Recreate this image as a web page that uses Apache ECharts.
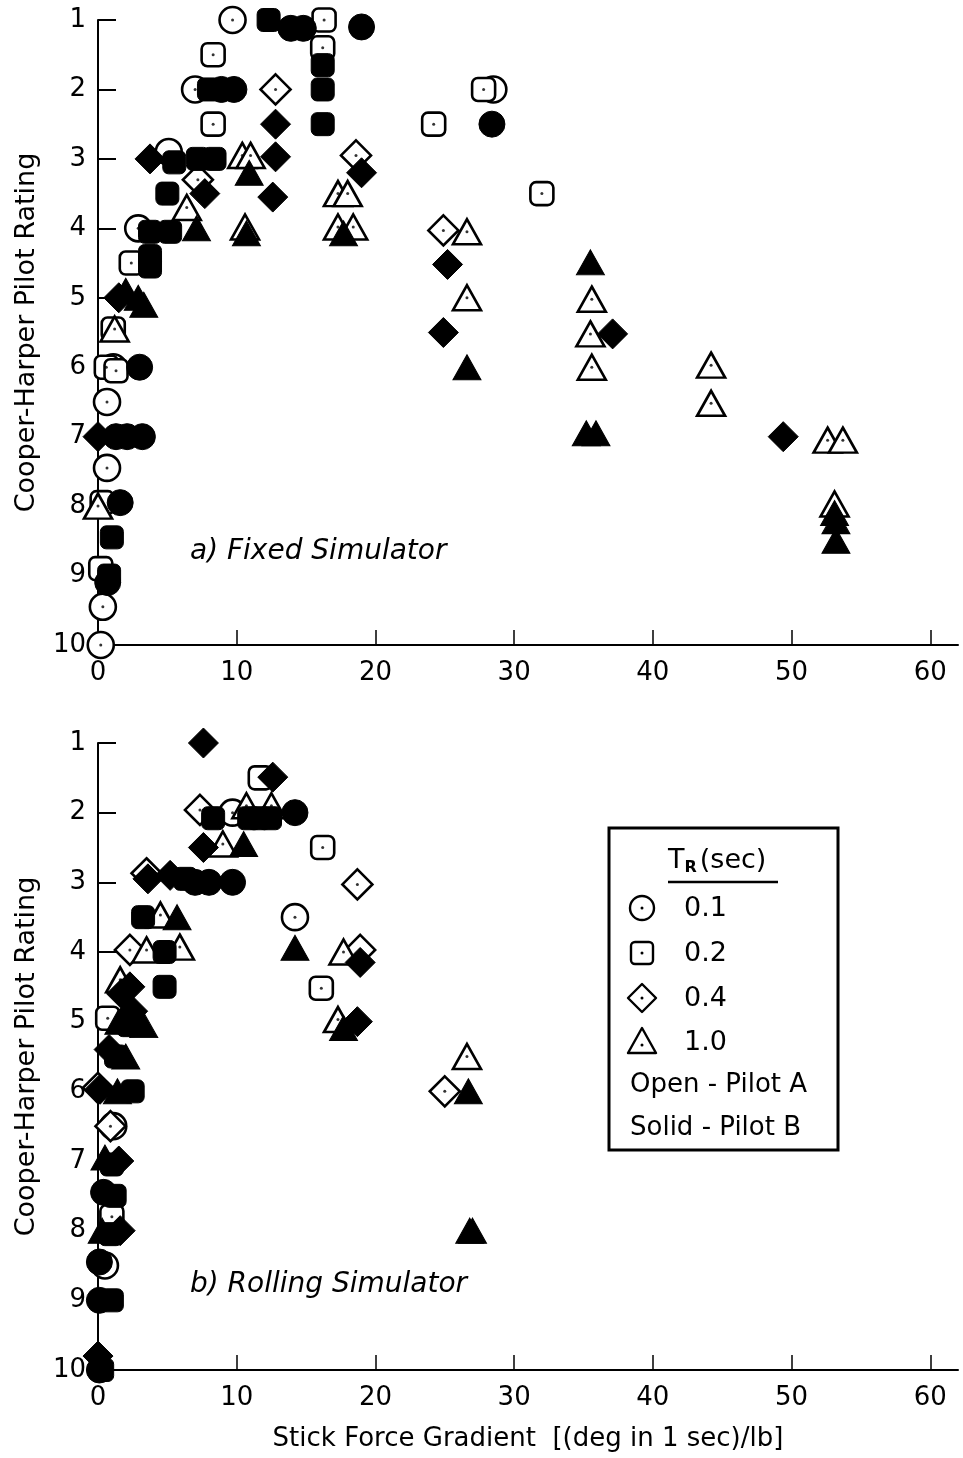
<!DOCTYPE html>
<html><head><meta charset="utf-8">
<script src="https://cdn.jsdelivr.net/npm/echarts@6/dist/echarts.min.js"></script>
<style>html,body{margin:0;padding:0;background:#fff}#c{width:963px;height:1458px}</style>
</head><body><div id="c"></div>
<script>
// ---- tick labels ----
const xTicks = [0, 10, 20, 30, 40, 50, 60];
const yTicks = [1, 2, 3, 4, 5, 6, 7, 8, 9, 10];
const yTitle = 'Cooper-Harper Pilot Rating';
const xTitle = 'Stick Force Gradient  [(deg in 1 sec)/lb]';
const panelTitles = ['a) Fixed Simulator', 'b) Rolling Simulator'];
const legendRows = ['0.1', '0.2', '0.4', '1.0'];
const legendNotes = ['Open - Pilot A', 'Solid - Pilot B'];

// ---- a) Fixed simulator: [stick force gradient, pilot rating] ----
const fixedCircleA = [[9.7,1.0],[14.3,0.95],[19.0,0.95],[7.0,2.0],[28.5,2.0],[5.1,2.9],[2.9,4.0],[1.1,6.0],[0.65,6.5],[0.65,7.45],[0.35,9.45],[0.2,10.0]];
const fixedCircleB = [[13.9,1.12],[14.8,1.12],[19.0,1.1],[8.9,2.0],[9.8,2.0],[28.4,2.5],[3.0,6.0],[1.3,7.0],[2.1,7.0],[3.2,7.0],[1.6,7.95],[0.7,9.1]];
const fixedSquareA = [[16.3,1.0],[8.3,1.5],[16.2,1.4],[27.8,2.0],[8.3,2.5],[24.2,2.5],[32.0,3.5],[2.4,4.5],[1.1,5.45],[0.6,6.0],[1.3,6.05],[0.3,7.95],[0.2,8.9]];
const fixedSquareB = [[12.3,1.0],[16.2,1.65],[8.0,2.0],[16.2,2.0],[16.2,2.5],[5.5,3.05],[7.2,3.0],[8.4,3.0],[5.0,3.5],[3.75,4.05],[5.2,4.05],[3.75,4.4],[3.75,4.55],[1.0,8.45],[0.8,9.0]];
const fixedDiamondA = [[12.8,2.0],[18.6,2.95],[24.9,4.03],[7.2,3.3]];
const fixedDiamondB = [[12.8,2.5],[3.75,3.0],[12.8,2.97],[12.6,3.55],[19.0,3.2],[7.7,3.5],[25.2,4.52],[24.9,5.5],[37.1,5.52],[49.4,7.0],[0.0,7.0],[1.5,5.0]];
const fixedTriangleA = [[10.4,2.95],[11.0,2.95],[17.3,3.5],[18.0,3.5],[17.3,3.98],[18.4,3.98],[10.6,3.98],[6.4,3.7],[26.6,4.05],[26.6,5.0],[35.6,5.02],[35.5,5.52],[35.6,6.0],[44.2,5.97],[44.2,6.52],[52.6,7.05],[53.7,7.05],[53.1,7.97],[1.2,5.45],[0.0,8.0]];
const fixedTriangleB = [[10.9,3.2],[17.7,4.07],[10.7,4.07],[7.1,4.0],[35.5,4.49],[26.6,6.0],[35.2,6.95],[35.9,6.95],[53.1,8.1],[53.2,8.22],[53.2,8.5],[2.0,4.9],[2.9,5.0],[3.3,5.1]];

// ---- b) Rolling simulator ----
const rollCircleA = [[9.7,2.0],[14.2,3.5],[1.1,6.5],[0.5,8.5]];
const rollCircleB = [[14.2,2.0],[7.0,3.0],[8.0,3.0],[9.7,3.0],[0.4,7.45],[0.1,8.45],[0.1,9.0],[0.1,10.0]];
const rollSquareA = [[11.7,1.5],[16.2,2.5],[16.1,4.52],[0.7,4.95],[1.0,7.8]];
const rollSquareB = [[8.3,2.08],[10.9,2.08],[11.6,2.08],[12.4,2.08],[6.3,2.95],[3.25,3.5],[4.8,4.0],[4.8,4.5],[2.2,5.05],[1.3,5.5],[2.5,6.0],[1.0,7.05],[1.2,7.5],[0.9,8.05],[1.0,9.0],[0.3,10.0]];
const rollDiamondA = [[7.35,1.96],[3.5,2.87],[18.7,3.03],[2.3,3.97],[18.9,3.97],[0.0,5.95],[0.9,6.5],[25.0,6.0]];
const rollDiamondB = [[7.6,1.0],[12.6,1.49],[7.6,2.5],[3.6,2.95],[5.2,2.9],[18.9,4.15],[2.3,4.5],[1.7,4.6],[18.7,5.0],[2.5,4.85],[0.8,5.4],[0.15,5.97],[1.5,7.0],[1.6,8.0],[0.0,9.8]];
const rollTriangleA = [[10.7,1.9],[12.5,1.9],[9.0,2.45],[4.5,3.47],[3.5,3.97],[5.9,3.93],[17.7,4.0],[1.6,4.4],[17.3,4.97],[26.6,5.5]];
const rollTriangleB = [[10.5,2.45],[5.7,3.5],[14.2,3.94],[1.5,5.0],[3.3,5.05],[17.7,5.09],[2.0,5.5],[1.4,6.0],[26.7,6.0],[0.5,6.95],[0.3,8.0],[26.8,8.0],[27.0,8.0]];

const FONT = 'DejaVu Sans';
const SHAPES = {
  circle: {symbol: 'circle', size: 26},
  square: {symbol: 'roundRect', size: 23},
  diamond: {symbol: 'diamond', size: 30},
  triangle: {symbol: 'triangle', size: [28, 25]}
};

function xAxis(gi, named) {
  return {
    type: 'value', gridIndex: gi, min: 0, max: 62, interval: 10,
    axisLine: {lineStyle: {color: '#000', width: 2}},
    axisTick: {inside: true, length: 15, customValues: xTicks, lineStyle: {color: '#000', width: 1.5}},
    axisLabel: {customValues: xTicks, color: '#000', fontSize: 26, fontFamily: FONT, margin: 15},
    splitLine: {show: false},
    name: named ? xTitle : '', nameLocation: 'middle', nameGap: 56,
    nameTextStyle: {color: '#000', fontSize: 26, fontFamily: FONT}
  };
}
function yAxis(gi) {
  return {
    type: 'value', gridIndex: gi, min: 1, max: 10, interval: 1, inverse: true,
    axisLine: {lineStyle: {color: '#000', width: 2}},
    axisTick: {inside: true, length: 18, lineStyle: {color: '#000', width: 2}},
    axisLabel: {color: '#000', fontSize: 26, fontFamily: FONT, margin: 12},
    splitLine: {show: false},
    name: yTitle, nameLocation: 'middle', nameGap: 58, nameRotate: 90,
    nameTextStyle: {color: '#000', fontSize: 27, fontFamily: FONT}
  };
}

const series = [];
function panel(gi, sets) {
  // open markers (Pilot A)
  sets.forEach(([shape, open]) => {
    series.push({type: 'scatter', xAxisIndex: gi, yAxisIndex: gi, data: open,
      symbol: SHAPES[shape].symbol, symbolSize: SHAPES[shape].size,
      itemStyle: {color: '#fff', borderColor: '#000', borderWidth: 2.6, opacity: 1},
      emphasis: {disabled: true}, silent: true, z: 2});
    series.push({type: 'scatter', xAxisIndex: gi, yAxisIndex: gi, data: open,
      symbol: 'circle', symbolSize: 3, itemStyle: {color: '#000'}, silent: true, z: 2});
  });
  // solid markers (Pilot B)
  sets.forEach(([shape, open, solid]) => {
    series.push({type: 'scatter', xAxisIndex: gi, yAxisIndex: gi, data: solid,
      symbol: SHAPES[shape].symbol, symbolSize: SHAPES[shape].size,
      itemStyle: {color: '#000', borderColor: '#000', borderWidth: 1, opacity: 1},
      silent: true, z: 3});
  });
}
panel(0, [['circle', fixedCircleA, fixedCircleB], ['square', fixedSquareA, fixedSquareB],
          ['diamond', fixedDiamondA, fixedDiamondB], ['triangle', fixedTriangleA, fixedTriangleB]]);
panel(1, [['circle', rollCircleA, rollCircleB], ['square', rollSquareA, rollSquareB],
          ['diamond', rollDiamondA, rollDiamondB], ['triangle', rollTriangleA, rollTriangleB]]);

// legend box (drawn with graphic elements, absolute coordinates)
const LX = 642, rowsY = [908, 953, 998, 1042];
const lg = [
  {type: 'rect', shape: {x: 609, y: 828, width: 229, height: 322}, style: {fill: '#fff', stroke: '#000', lineWidth: 3}},
  {type: 'text', x: 668, y: 845, style: {rich: {t: {fontSize: 27, fontFamily: FONT, fill: '#000'}, s: {fontSize: 16, fontWeight: 'bold', fontFamily: FONT, fill: '#000', padding: [15, 3, 0, 0]}}, text: '{t|T}{s|R}{t|(sec)}'}},
  {type: 'line', shape: {x1: 668, y1: 882, x2: 778, y2: 882}, style: {stroke: '#000', lineWidth: 2.5}},
  {type: 'circle', shape: {cx: LX, cy: rowsY[0], r: 12}, style: {fill: '#fff', stroke: '#000', lineWidth: 2.4}},
  {type: 'rect', shape: {x: LX - 11, y: rowsY[1] - 11, width: 22, height: 22, r: 4}, style: {fill: '#fff', stroke: '#000', lineWidth: 2.4}},
  {type: 'polygon', shape: {points: [[LX, rowsY[2] - 14], [LX + 14, rowsY[2]], [LX, rowsY[2] + 14], [LX - 14, rowsY[2]]]}, style: {fill: '#fff', stroke: '#000', lineWidth: 2.4, lineJoin: 'round'}},
  {type: 'polygon', shape: {points: [[LX, rowsY[3] - 14], [LX + 14, rowsY[3] + 11], [LX - 14, rowsY[3] + 11]]}, style: {fill: '#fff', stroke: '#000', lineWidth: 2.4, lineJoin: 'round'}}
];
rowsY.forEach((y, i) => {
  lg.push({type: 'circle', shape: {cx: LX, cy: i === 3 ? y + 3 : y, r: 1.5}, style: {fill: '#000'}});
  lg.push({type: 'text', x: 684, y: y + 1, style: {text: legendRows[i], fontSize: 27, fontFamily: FONT, fill: '#000', verticalAlign: 'middle'}});
});
legendNotes.forEach((t, i) => {
  lg.push({type: 'text', x: 630, y: 1085 + i * 43, style: {text: t, fontSize: 26, fontFamily: FONT, fill: '#000', verticalAlign: 'middle'}});
});

const option = {
  backgroundColor: '#fff',
  animation: false,
  grid: [
    {left: 98, top: 20, width: 860, height: 625},
    {left: 98, top: 743, width: 860, height: 627}
  ],
  xAxis: [xAxis(0, false), xAxis(1, true)],
  yAxis: [yAxis(0), yAxis(1)],
  series: series,
  graphic: [
    {type: 'text', left: 190, top: 538, style: {text: panelTitles[0], fontSize: 28, fontStyle: 'italic', fontFamily: FONT, fill: '#000'}},
    {type: 'text', left: 190, top: 1271, style: {text: panelTitles[1], fontSize: 28, fontStyle: 'italic', fontFamily: FONT, fill: '#000'}},
    {type: 'group', children: lg}
  ]
};
const chart = echarts.init(document.getElementById('c'), null, {renderer: 'canvas'});
chart.setOption(option);
</script>
</body></html>
